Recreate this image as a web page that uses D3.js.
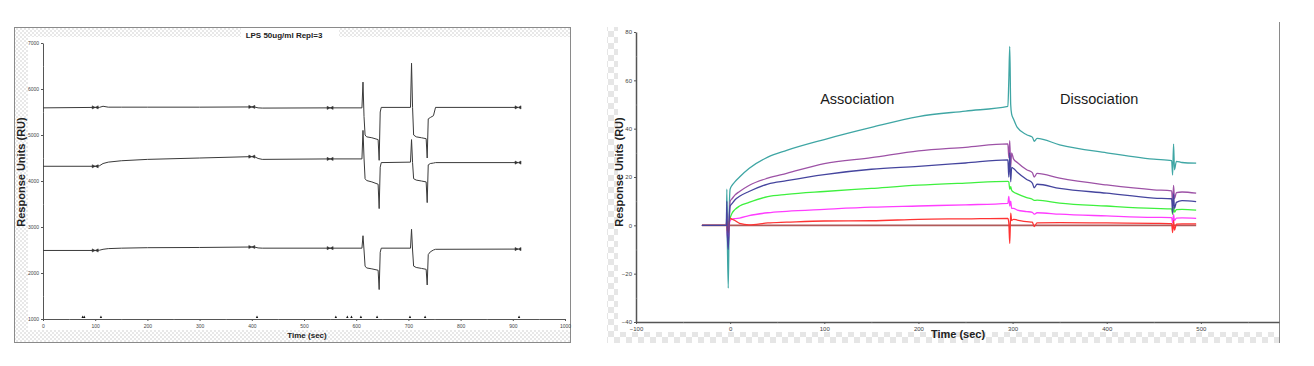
<!DOCTYPE html>
<html>
<head>
<meta charset="utf-8">
<script src="https://cdn.jsdelivr.net/npm/d3@7"></script>
<style>
  body { margin: 0; background: #fff; }
  svg { display: block; font-family: Arial, "Liberation Sans", sans-serif; }
</style>
</head>
<body>
<svg id="chart" width="1314" height="366"></svg>
<script>
// ---- left panel: LPS 50ug/ml, three replicate channels ----
var lpsTime = [0, 100, 108, 115, 125, 150, 200, 300, 400, 405, 412, 420, 550, 611, 613, 615, 617, 620, 630, 642, 644, 646, 648,
               704, 706, 708, 710, 715, 725, 734, 736, 738, 742, 748, 752, 910];
var lpsTop = [5590, 5600, 5600, 5625, 5605, 5605, 5605, 5605, 5610, 5610, 5590, 5585, 5590, 5590, 6150, 5400, 5000, 4960, 4940, 4900, 4450, 5500, 5600,
              5600, 6560, 5600, 5000, 4960, 4940, 4920, 4500, 5350, 5380, 5420, 5600, 5600];
var lpsMid = [4320, 4320, 4330, 4380, 4410, 4440, 4470, 4500, 4530, 4530, 4490, 4470, 4480, 4480, 5100, 4500, 4050, 4010, 3980, 3930, 3400, 4300, 4400,
              4410, 4900, 4400, 4050, 4020, 4000, 3980, 3530, 4350, 4380, 4390, 4400, 4400];
var lpsLow = [2490, 2490, 2495, 2515, 2530, 2540, 2550, 2555, 2565, 2565, 2545, 2540, 2540, 2540, 2810, 2500, 2150, 2110, 2090, 2060, 1640, 2450, 2540,
              2540, 2950, 2500, 2150, 2120, 2100, 2080, 1740, 2400, 2460, 2500, 2515, 2520];
var lpsMarkTimes = [100, 400, 550, 910];
var lpsInjectTimes = [76, 79, 111, 410, 561, 583, 591, 609, 640, 703, 732, 912];
var lpsXTicks = [0, 100, 200, 300, 400, 500, 600, 700, 800, 900, 1000];
var lpsXMinor = [50, 150, 250, 350, 450, 550, 650, 750, 850, 950];
var lpsYTicks = [1000, 2000, 3000, 4000, 5000, 6000, 7000];
var lpsYMinor = [1500, 2500, 3500, 4500, 5500, 6500];

// ---- right panel: association / dissociation kinetics ----
var kinTime = [-30, -4, -3.5, -3, -2, -1, 0, 2, 5, 10, 20, 40, 60, 100, 150, 200, 250, 295, 296, 297, 298, 299, 301,
               305, 315, 321, 323, 326, 350, 400, 450, 469, 470, 471, 472, 474, 480, 495];
var kinTeal = [0, 0, 15, -5, -26, 5, 15, 16.5, 18, 20, 23.5, 28.2, 31, 35.5, 40.5, 45, 47.3, 49.2, 60, 74, 50, 46, 44,
               40.5, 37.5, 36.5, 34.8, 36, 33.3, 30, 27.4, 26.8, 20.8, 33.6, 23, 26.5, 26, 25.7];
var kinPurple = [0, 0, 5, -3, -8, 3, 10, 11, 12.5, 14, 16.5, 19.5, 21.5, 25.5, 28, 30.8, 32.3, 33.7, 28, 35, 24, 30, 27.5,
                 26, 23, 21.8, 20, 21.5, 19.5, 16.7, 14.7, 14.3, 9, 16.5, 11, 13.5, 13.8, 13.3];
var kinNavy = [0, 0, 10, -4, -10, 2, 8, 9, 10.5, 12, 14, 17.1, 18.5, 21, 23.2, 24.4, 25.8, 27.1, 20, 30, 18, 24, 23.5,
               22, 19, 17.5, 15.5, 17, 15.3, 13.3, 11.3, 11, 5, 13, 7, 9.5, 10.2, 9.8];
var kinGreen = [0, 0, 2, -2, -5, 1, 3, 5, 6.5, 8, 9.5, 11.9, 12.8, 14, 15.3, 16.6, 17.5, 18.2, 18, 15, 16, 14.5, 13.8,
                13, 11.5, 10.8, 10.3, 10.4, 9.2, 8, 7, 6.8, 4.5, 7.5, 5.5, 6.5, 6.6, 6.3];
var kinMagenta = [0, 0, 3, -3, -6, 0, 2, 2.5, 2.8, 3, 4, 5.2, 5.8, 6.6, 7.5, 8, 8.5, 9.1, 12, 8, 10, 7, 7,
                  6.3, 5.7, 5.4, 4.6, 5.2, 4.6, 3.9, 3.3, 3.2, 1, 4.5, 2, 3, 3.1, 2.9];
var kinRed = [0, 0, 2, -2, -3, 1, 3, 2.5, 2, 0.8, 0.2, 1, 1.3, 1.8, 1.9, 2.5, 2.7, 2.9, 1, -7.5, 5, 2, 2.5,
              2.2, 1.5, 1.3, -0.5, 1, 1.1, 1, 0.8, 0.7, -3, 2, -2, 0.5, 0.6, 0.6];
var kinRefTime = [-30, 495];
var kinRef = [0, 0];
var kinXTicks = [-100, 0, 100, 200, 300, 400, 500];
var kinXMinor = [-50, 50, 150, 250, 350, 450, 550];
var kinYTicks = [-40, -20, 0, 20, 40, 60, 80];
var kinYMinor = [-30, -10, 10, 30, 50, 70];
var kinPhases = ["Association", "Dissociation"];
var kinPhaseTimes = [135, 392];

var kinSeries = [kinTeal, kinPurple, kinGreen, kinMagenta, kinRed, kinNavy];
var kinColors = ["#3fa6a4", "#9d52a6", "#3ef03e", "#ff3dff", "#ff3333", "#45459e"];

var svg = d3.select("#chart");
var defs = svg.append("defs");

// checkered fills for the frame margins
var p1 = defs.append("pattern").attr("id", "chkSmall").attr("width", 4).attr("height", 4)
  .attr("patternUnits", "userSpaceOnUse");
p1.append("rect").attr("width", 4).attr("height", 4).attr("fill", "#fff");
p1.append("rect").attr("width", 2).attr("height", 2).attr("fill", "#e8e8e8");
p1.append("rect").attr("x", 2).attr("y", 2).attr("width", 2).attr("height", 2).attr("fill", "#e8e8e8");

var p2 = defs.append("pattern").attr("id", "chkBig").attr("width", 12).attr("height", 12)
  .attr("patternUnits", "userSpaceOnUse").attr("x", 2).attr("y", 1);
p2.append("rect").attr("width", 12).attr("height", 12).attr("fill", "#fff");
p2.append("rect").attr("width", 6).attr("height", 6).attr("fill", "#e6e6e6");
p2.append("rect").attr("x", 6).attr("y", 6).attr("width", 6).attr("height", 6).attr("fill", "#e6e6e6");

function styleAxis(g, fs) {
  g.select(".domain").attr("stroke", "#555").attr("stroke-width", 1);
  g.selectAll(".tick line").attr("stroke", "#555");
  g.selectAll(".tick text").attr("fill", "#444").style("font-size", fs + "px");
}

function interp(ts, vs, t) {
  var i = d3.bisectLeft(ts, t);
  if (i <= 0) return vs[0];
  if (i >= ts.length) return vs[vs.length - 1];
  var f = (t - ts[i - 1]) / (ts[i] - ts[i - 1]);
  return vs[i - 1] + f * (vs[i] - vs[i - 1]);
}

// ================= left panel =================
svg.append("rect").attr("x", 14.5).attr("y", 27.5).attr("width", 556).attr("height", 315)
  .attr("fill", "url(#chkSmall)").attr("stroke", "#8a8a8a");
svg.append("rect").attr("x", 28).attr("y", 37).attr("width", 542).attr("height", 293).attr("fill", "#fff");
svg.append("rect").attr("x", 241).attr("y", 28).attr("width", 98).attr("height", 10).attr("fill", "#fff");
svg.append("text").attr("x", 284).attr("y", 38).attr("text-anchor", "middle")
  .style("font-size", "8px").style("font-weight", "bold").attr("fill", "#222").text("LPS 50ug/ml Repl=3");

var lx = d3.scaleLinear().domain([0, 1000]).range([43, 565]);
var ly = d3.scaleLinear().domain([1000, 7000]).range([319, 43]);

var gxl = svg.append("g").attr("transform", "translate(0," + ly(1000) + ")")
  .call(d3.axisBottom(lx).tickValues(lpsXTicks).tickSize(2).tickPadding(3).tickSizeOuter(0).tickFormat(d3.format("d")));
styleAxis(gxl, 5);
svg.append("g").attr("transform", "translate(0," + ly(1000) + ")")
  .call(d3.axisBottom(lx).tickValues(lpsXMinor).tickSize(1).tickFormat(""))
  .call(function(g) { g.select(".domain").remove(); g.selectAll("line").attr("stroke", "#777"); });

var gyl = svg.append("g").attr("transform", "translate(" + lx(0) + ",0)")
  .call(d3.axisLeft(ly).tickValues(lpsYTicks).tickSize(2).tickPadding(2).tickSizeOuter(0).tickFormat(d3.format("d")));
styleAxis(gyl, 5);
svg.append("g").attr("transform", "translate(" + lx(0) + ",0)")
  .call(d3.axisRight(ly).tickValues(lpsYMinor).tickSize(1).tickFormat(""))
  .call(function(g) { g.select(".domain").remove(); g.selectAll("line").attr("stroke", "#777"); });

svg.append("text").attr("transform", "translate(25,172) rotate(-90)").attr("text-anchor", "middle")
  .style("font-size", "11px").style("font-weight", "bold").attr("fill", "#222").text("Response Units (RU)");
svg.append("text").attr("x", 307).attr("y", 338).attr("text-anchor", "middle")
  .style("font-size", "8px").style("font-weight", "bold").attr("fill", "#222").text("Time (sec)");

var lline = d3.line().x(function(d) { return lx(d[0]); }).y(function(d) { return ly(d[1]); });
[lpsTop, lpsMid, lpsLow].forEach(function(vals) {
  svg.append("path").datum(d3.zip(lpsTime, vals)).attr("d", lline)
    .attr("fill", "none").attr("stroke", "#3a3a3a").attr("stroke-width", 1);
  svg.append("g").selectAll("path").data(lpsMarkTimes).enter().append("path")
    .attr("transform", function(t) { return "translate(" + lx(t) + "," + ly(interp(lpsTime, vals, t)) + ")"; })
    .attr("d", "M-3,-1.6L0,0L-3,1.6ZM3,-1.6L0,0L3,1.6Z")
    .attr("fill", "#333").attr("stroke", "#333").attr("stroke-width", 0.5);
});

svg.append("g").selectAll("path").data(lpsInjectTimes).enter().append("path")
  .attr("transform", function(t) { return "translate(" + lx(t) + "," + (ly(1000) - 1) + ")"; })
  .attr("d", "M-1.2,0L0,-2.4L1.2,0Z").attr("fill", "#111");

// ================= right panel =================
svg.append("rect").attr("x", 607).attr("y", 27).attr("width", 11).attr("height", 316).attr("fill", "url(#chkBig)");
svg.append("rect").attr("x", 607).attr("y", 332).attr("width", 672).attr("height", 11).attr("fill", "url(#chkBig)");
svg.append("line").attr("x1", 1279.5).attr("x2", 1279.5).attr("y1", 22).attr("y2", 343)
  .attr("stroke", "#8a8a8a").attr("stroke-width", 1);

var rx = d3.scaleLinear().domain([-100, 583]).range([636, 1279]);
var ry = d3.scaleLinear().domain([-40, 80]).range([322, 32]);

var gxr = svg.append("g").attr("transform", "translate(0," + ry(-40) + ")")
  .call(d3.axisBottom(rx).tickValues(kinXTicks).tickSize(2).tickPadding(3).tickSizeOuter(0));
styleAxis(gxr, 6);
gxr.select(".domain").attr("stroke-width", 1.5);
svg.append("g").attr("transform", "translate(0," + ry(-40) + ")")
  .call(d3.axisBottom(rx).tickValues(kinXMinor).tickSize(1).tickFormat(""))
  .call(function(g) { g.select(".domain").remove(); g.selectAll("line").attr("stroke", "#777"); });

var gyr = svg.append("g").attr("transform", "translate(" + rx(-100) + ",0)")
  .call(d3.axisLeft(ry).tickValues(kinYTicks).tickSize(2).tickPadding(2).tickSizeOuter(0));
styleAxis(gyr, 6);
gyr.select(".domain").attr("stroke-width", 1.5);
svg.append("g").attr("transform", "translate(" + rx(-100) + ",0)")
  .call(d3.axisRight(ry).tickValues(kinYMinor).tickSize(1).tickFormat(""))
  .call(function(g) { g.select(".domain").remove(); g.selectAll("line").attr("stroke", "#777"); });

svg.append("text").attr("transform", "translate(623,172) rotate(-90)").attr("text-anchor", "middle")
  .style("font-size", "11px").style("font-weight", "bold").attr("fill", "#222").text("Response Units (RU)");
svg.append("text").attr("x", 958).attr("y", 338).attr("text-anchor", "middle")
  .style("font-size", "11px").style("font-weight", "bold").attr("fill", "#222").text("Time (sec)");

svg.append("g").selectAll("text").data(kinPhases).enter().append("text")
  .attr("x", function(d, i) { return rx(kinPhaseTimes[i]); })
  .attr("y", 104).attr("text-anchor", "middle")
  .style("font-size", "14.5px").attr("fill", "#1a1a1a").text(function(d) { return d; });

var rline = d3.line().curve(d3.curveMonotoneX)
  .x(function(d) { return rx(d[0]); }).y(function(d) { return ry(d[1]); });
svg.append("path").datum(d3.zip(kinRefTime, kinRef)).attr("d", rline)
  .attr("fill", "none").attr("stroke", "#b05a5a").attr("stroke-width", 1.6);
kinSeries.forEach(function(vals, i) {
  svg.append("path").datum(d3.zip(kinTime, vals)).attr("d", rline)
    .attr("fill", "none").attr("stroke", kinColors[i]).attr("stroke-width", 1.3)
    .attr("stroke-linejoin", "round");
});
</script>
</body>
</html>
